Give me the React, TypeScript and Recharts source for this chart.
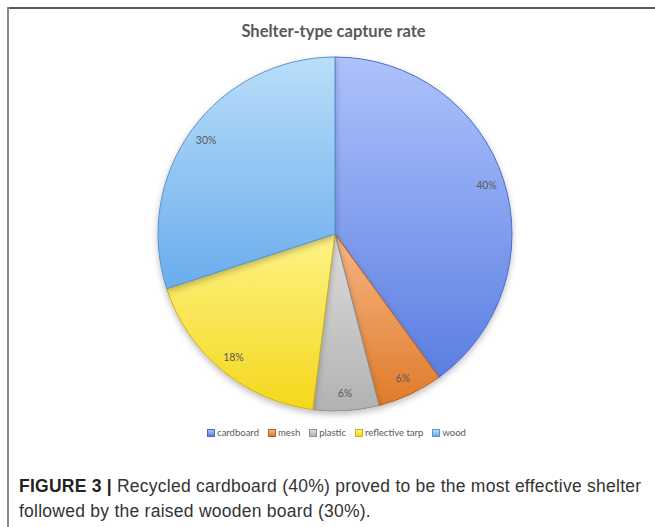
import { PieChart, Pie, Cell, Legend } from "recharts";

const categories = ["cardboard", "mesh", "plastic", "reflective tarp", "wood"];
const shares = [40, 6, 6, 18, 30];
const topColors = ["#aec2fc", "#f6b685", "#dcdcdc", "#fff386", "#b9def9"];
const bottomColors = ["#5a7fe2", "#e07b2a", "#b2b2b2", "#f4d71c", "#6aaced"];
const edgeColors = ["#4a6cc9", "#b8621e", "#8f8f8f", "#c9b21a", "#5b93cc"];

const data = categories.map((name, i) => ({ name, value: shares[i] }));

const RADIAN = Math.PI / 180;

function renderLabel(props: any) {
  const { cx, cy, midAngle, outerRadius, value } = props;
  const r = outerRadius * 0.9;
  const x = cx + r * Math.cos(-midAngle * RADIAN);
  const y = cy + r * Math.sin(-midAngle * RADIAN);
  return (
    <text
      x={x}
      y={y}
      fill="#595959"
      fontSize={10.5}
      fontFamily="Lato, sans-serif"
      textAnchor="middle"
      dominantBaseline="central"
    >
      {`${value}%`}
    </text>
  );
}

function LegendContent() {
  return (
    <div
      style={{
        display: "flex",
        justifyContent: "center",
        gap: 9,
        fontFamily: "Lato, sans-serif",
        fontSize: 9.5,
        color: "#595959",
      }}
    >
      {categories.map((c, i) => (
        <span key={c} style={{ display: "flex", alignItems: "center" }}>
          <span
            style={{
              display: "inline-block",
              width: 6,
              height: 6,
              marginRight: 2,
              background: `linear-gradient(${topColors[i]}, ${bottomColors[i]})`,
              border: `1px solid ${edgeColors[i]}`,
            }}
          />
          {c}
        </span>
      ))}
    </div>
  );
}

export default function App() {
  return (
    <div
      style={{
        position: "absolute",
        left: 0,
        top: 0,
        width: 655,
        height: 527,
        background: "#fff",
        overflow: "hidden",
      }}
    >
      {/* frame lines */}
      <div style={{ position: "absolute", left: 7, top: 7, width: 648, height: 2, background: "#5a5a5a" }} />
      <div style={{ position: "absolute", left: 7, top: 7, width: 2, height: 520, background: "#8a8a8a" }} />

      <div
        style={{
          position: "absolute",
          left: 0,
          width: 667,
          top: 21,
          textAlign: "center",
          fontFamily: "Lato, sans-serif",
          fontWeight: 700,
          fontSize: 16.5,
          color: "#595959",
        }}
      >
        Shelter-type capture rate
      </div>

      <div style={{ position: "absolute", left: 0, top: 0 }}>
        <PieChart width={667} height={450} margin={{ top: 0, right: 0, bottom: 0, left: 0 }}>
          <defs>
            {categories.map((c, i) => (
              <linearGradient key={c} id={`grad${i}`} x1="0" y1="0" x2="0" y2="1">
                <stop offset="0%" stopColor={topColors[i]} />
                <stop offset="100%" stopColor={bottomColors[i]} />
              </linearGradient>
            ))}
            <filter id="pieShadow" x="-10%" y="-10%" width="120%" height="125%">
              <feDropShadow dx="0" dy="3" stdDeviation="3" floodColor="#000" floodOpacity="0.25" />
            </filter>
          </defs>
          <Pie
            data={data}
            dataKey="value"
            nameKey="name"
            cx={335}
            cy={234}
            outerRadius={177}
            startAngle={90}
            endAngle={-270}
            label={renderLabel}
            labelLine={false}
            isAnimationActive={false}
            style={{ filter: "url(#pieShadow)" }}
          >
            {data.map((d, i) => (
              <Cell key={d.name} fill={`url(#grad${i})`} stroke={edgeColors[i]} strokeWidth={1} />
            ))}
          </Pie>
          <Legend
            content={<LegendContent />}
            wrapperStyle={{ top: 427, left: 3, width: 667 }}
          />
        </PieChart>
      </div>

      {/* caption, one block per line */}
      <div
        style={{
          position: "absolute",
          left: 19,
          top: 474,
          width: 632,
          fontFamily: "'Liberation Sans', Arial, sans-serif",
          fontSize: 17.5,
          lineHeight: "25px",
          color: "#333",
          letterSpacing: 0.25,
          whiteSpace: "nowrap",
        }}
      >
        <div>
          <b style={{ color: "#222", marginRight: 5 }}>FIGURE 3 |</b>
          <span>Recycled cardboard (40%) proved to be the most effective shelter</span>
        </div>
        <div>followed by the raised wooden board (30%).</div>
      </div>
    </div>
  );
}
